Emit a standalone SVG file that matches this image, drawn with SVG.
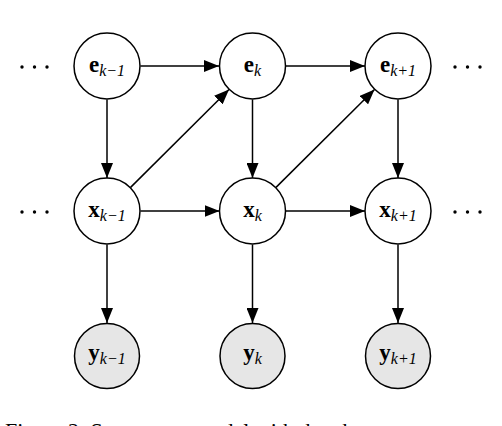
<svg xmlns="http://www.w3.org/2000/svg" width="502" height="426" viewBox="0 0 502 426">
<defs>
<marker id="ah" markerUnits="userSpaceOnUse" markerWidth="15" markerHeight="12" refX="15" refY="6" orient="auto">
<path d="M0,0 L15,6 L0,12 Z" fill="#000"/>
</marker>
<style>
.n{fill:#fff;stroke:#000;stroke-width:1.5}
.o{fill:#e6e6e6;stroke:#000;stroke-width:1.5}
.c{stroke:#000;stroke-width:1.5;fill:none;marker-end:url(#ah)}
.l{font-family:"Liberation Serif",serif;font-size:23px;font-weight:bold;text-anchor:middle}
.s{font-family:"Liberation Serif",serif;font-size:16px;font-style:italic;font-weight:normal}
.d{fill:#000}
.cap{font-family:"Liberation Serif",serif;font-size:22px}
</style>
</defs>
<rect width="502" height="426" fill="#fff"/>
<g id="connectors">
<line class="c" x1="140.5" y1="66" x2="219" y2="66"/>
<line class="c" x1="285.5" y1="66" x2="365" y2="66"/>
<line class="c" x1="140.5" y1="211" x2="219.5" y2="211"/>
<line class="c" x1="285.5" y1="211" x2="365" y2="211"/>
<line class="c" x1="107" y1="99.5" x2="107" y2="178"/>
<line class="c" x1="252.5" y1="99.5" x2="252.5" y2="178"/>
<line class="c" x1="398" y1="99.5" x2="398" y2="178"/>
<line class="c" x1="107" y1="244.5" x2="107" y2="323"/>
<line class="c" x1="252.5" y1="244.5" x2="252.5" y2="323"/>
<line class="c" x1="398" y1="244.5" x2="398" y2="323"/>
<line class="c" x1="130.6" y1="187.4" x2="229" y2="89.5"/>
<line class="c" x1="276" y1="187.4" x2="374.5" y2="89.5"/>
</g>
<g id="e_km1"><circle class="n" cx="107" cy="66" r="33"/><text class="l" x="107" y="72">e<tspan class="s" dy="4">k−1</tspan></text></g>
<g id="e_k"><circle class="n" cx="252.5" cy="66" r="33"/><text class="l" x="252.5" y="72">e<tspan class="s" dy="4">k</tspan></text></g>
<g id="e_kp1"><circle class="n" cx="398" cy="66" r="33"/><text class="l" x="398" y="72">e<tspan class="s" dy="4">k+1</tspan></text></g>
<g id="x_km1"><circle class="n" cx="107" cy="211" r="33"/><text class="l" x="107" y="217">x<tspan class="s" dy="4">k−1</tspan></text></g>
<g id="x_k"><circle class="n" cx="252.5" cy="211" r="33"/><text class="l" x="252.5" y="217">x<tspan class="s" dy="4">k</tspan></text></g>
<g id="x_kp1"><circle class="n" cx="398" cy="211" r="33"/><text class="l" x="398" y="217">x<tspan class="s" dy="4">k+1</tspan></text></g>
<g id="y_km1"><circle class="o" cx="107" cy="356" r="32.5"/><text class="l" x="107" y="360">y<tspan class="s" dy="4">k−1</tspan></text></g>
<g id="y_k"><circle class="o" cx="252.5" cy="356" r="32.5"/><text class="l" x="252.5" y="360">y<tspan class="s" dy="4">k</tspan></text></g>
<g id="y_kp1"><circle class="o" cx="398" cy="356" r="32.5"/><text class="l" x="398" y="360">y<tspan class="s" dy="4">k+1</tspan></text></g>
<g id="dots">
<circle class="d" cx="22" cy="67" r="1.7"/><circle class="d" cx="34.5" cy="67" r="1.7"/><circle class="d" cx="47" cy="67" r="1.7"/>
<circle class="d" cx="22" cy="212" r="1.7"/><circle class="d" cx="34.5" cy="212" r="1.7"/><circle class="d" cx="47" cy="212" r="1.7"/>
<circle class="d" cx="455" cy="67" r="1.7"/><circle class="d" cx="467.5" cy="67" r="1.7"/><circle class="d" cx="480" cy="67" r="1.7"/>
<circle class="d" cx="455" cy="212" r="1.7"/><circle class="d" cx="467.5" cy="212" r="1.7"/><circle class="d" cx="480" cy="212" r="1.7"/>
</g>
<text class="cap" x="5" y="438">Figure 2: State space model with the observ</text>
</svg>
